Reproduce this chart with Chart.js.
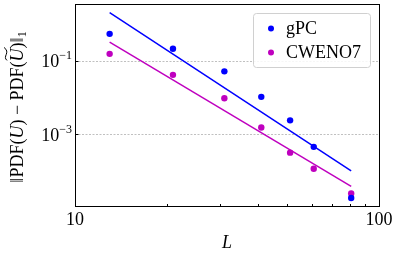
<!DOCTYPE html>
<html>
<head>
<meta charset="utf-8">
<script src="https://cdn.jsdelivr.net/npm/chart.js@4/dist/chart.umd.min.js"></script>
<style>
	html, body { margin: 0; padding: 0; background: #fff; }
	#box { width: 400px; height: 257px; }
</style>
</head>
<body>
<div id="box"><canvas id="grafico"></canvas></div>
<script>
// data
var L = [13, 21, 31, 41, 51, 61, 81]
var errGPC = [0.53, 0.21, 0.051, 0.0104, 0.0024, 0.00046, 0.000019]
var errCWENO = [0.152, 0.041, 0.0095, 0.00154, 0.00032, 0.000117, 0.000025]
var fitL = [13, 81]
var fitGPC = [2.0, 0.000102]
var fitCWENO = [0.316, 0.000039]
var xMajor = [10, 100]
var xMinor = [20, 30, 40, 50, 60, 70, 80, 90]
var yMajor = [0.1, 0.001]
var yExp = ['\u22121', '\u22123']
var serieNomes = ['gPC', 'CWENO7']

var corAzul = '#0000ff'
var corMag = '#bf00bf'
var fonte = '"Liberation Serif", "DejaVu Serif", serif'

function pontos(xs, ys) {
	var arr = []
	for (var i = 0; i < xs.length; i++) arr.push({ x: xs[i], y: ys[i] })
	return arr
}

var desenhoExtra = {
	id: 'desenhoExtra',
	beforeDatasetsDraw: function (chart) {
		var ctx = chart.ctx, a = chart.chartArea, ys = chart.scales.y
		ctx.save()
		ctx.strokeStyle = '#b0b0b0'
		ctx.lineWidth = 0.8
		ctx.setLineDash([2, 1.5])
		yMajor.forEach(function (v) {
			var py = Math.round(ys.getPixelForValue(v)) + 0.5
			ctx.beginPath(); ctx.moveTo(a.left, py); ctx.lineTo(a.right, py); ctx.stroke()
		})
		ctx.restore()
	},
	afterDraw: function (chart) {
		var ctx = chart.ctx, a = chart.chartArea, xs = chart.scales.x, ys = chart.scales.y
		ctx.save()
		// frame
		ctx.strokeStyle = '#000'
		ctx.lineWidth = 1
		ctx.strokeRect(Math.round(a.left) + 0.5, Math.round(a.top) + 0.5, Math.round(a.right - a.left), Math.round(a.bottom - a.top))
		// ticks pointing in
		ctx.beginPath()
		xMajor.forEach(function (v) {
			var px = Math.round(xs.getPixelForValue(v)) + 0.5
			ctx.moveTo(px, a.bottom); ctx.lineTo(px, a.bottom - 3.5)
		})
		xMinor.forEach(function (v) {
			var px = Math.round(xs.getPixelForValue(v)) + 0.5
			ctx.moveTo(px, a.bottom); ctx.lineTo(px, a.bottom - 2)
		})
		yMajor.forEach(function (v) {
			var py = Math.round(ys.getPixelForValue(v)) + 0.5
			ctx.moveTo(a.left, py); ctx.lineTo(a.left + 3.5, py)
		})
		ctx.stroke()
		// x tick labels
		ctx.fillStyle = '#000'
		ctx.font = '18px ' + fonte
		ctx.textAlign = 'center'
		ctx.textBaseline = 'middle'
		xMajor.forEach(function (v) {
			ctx.fillText(String(v), xs.getPixelForValue(v), a.bottom + 14)
		})
		// y tick labels 10^n
		yMajor.forEach(function (v, i) {
			var py = ys.getPixelForValue(v)
			ctx.font = '12px ' + fonte
			var wSup = ctx.measureText(yExp[i]).width
			ctx.textAlign = 'left'
			ctx.fillText(yExp[i], 72 - wSup, py - 5)
			ctx.font = '18px ' + fonte
			ctx.textAlign = 'right'
			ctx.fillText('10', 72 - wSup, py + 2)
		})
		// x title
		ctx.font = 'italic 18px ' + fonte
		ctx.textAlign = 'center'
		ctx.fillText('L', (a.left + a.right) / 2, 243)
		// y title, rotated
		ctx.translate(18, 107)
		ctx.rotate(-Math.PI / 2)
		var partes = [
			['\u2016PDF(', ''], ['U', 'italic '], [') \u2212 PDF(', ''], ['U', 'italic '], [')\u2016', '']
		]
		var total = 0
		partes.forEach(function (p) {
			ctx.font = p[1] + '18px ' + fonte
			total += ctx.measureText(p[0]).width
		})
		ctx.font = '12px ' + fonte
		total += ctx.measureText('1').width
		var cx = -total / 2
		ctx.textAlign = 'left'
		partes.forEach(function (p, i) {
			ctx.font = p[1] + '18px ' + fonte
			ctx.fillText(p[0], cx, 0)
			var w = ctx.measureText(p[0]).width
			if (i === 3) {
				// wide tilde over the second U
				ctx.save()
				ctx.lineWidth = 1
				ctx.beginPath()
				var tx = cx + 1, ty = -12, tw = w
				ctx.moveTo(tx, ty + 1)
				ctx.bezierCurveTo(tx + tw * 0.3, ty - 4, tx + tw * 0.6, ty + 5, tx + tw, ty - 2)
				ctx.stroke()
				ctx.restore()
			}
			cx += w
		})
		ctx.font = '12px ' + fonte
		ctx.fillText('1', cx, 5)
		ctx.restore()

		// legend inside the axes, top right
		ctx.save()
		var lx = 253, ly = 13, lw = 117, lh = 54
		ctx.fillStyle = 'rgba(255,255,255,0.85)'
		ctx.strokeStyle = '#d0d0d0'
		ctx.lineWidth = 1
		ctx.beginPath()
		ctx.roundRect(lx + 0.5, ly + 0.5, lw, lh, 3)
		ctx.fill(); ctx.stroke()
		var cores = [corAzul, corMag]
		ctx.font = '18px ' + fonte
		ctx.textAlign = 'left'
		ctx.textBaseline = 'middle'
		serieNomes.forEach(function (nome, i) {
			var yy = 28.5 + i * 24
			ctx.fillStyle = cores[i]
			ctx.beginPath(); ctx.arc(271, yy, 3, 0, Math.PI * 2); ctx.fill()
			ctx.fillStyle = '#000'
			ctx.fillText(nome, 286, yy + 1)
		})
		ctx.restore()
	}
}

var configChart = {
	type: 'scatter',
	data: {
		datasets: [{
			label: serieNomes[0],
			data: pontos(L, errGPC),
			backgroundColor: corAzul,
			borderColor: corAzul,
			pointRadius: 3.2,
			pointBorderWidth: 0,
		}, {
			label: serieNomes[1],
			data: pontos(L, errCWENO),
			backgroundColor: corMag,
			borderColor: corMag,
			pointRadius: 3.2,
			pointBorderWidth: 0,
		}, {
			label: 'fit gPC',
			data: pontos(fitL, fitGPC),
			showLine: true,
			borderColor: corAzul,
			borderWidth: 1.5,
			pointRadius: 0,
		}, {
			label: 'fit CWENO7',
			data: pontos(fitL, fitCWENO),
			showLine: true,
			borderColor: corMag,
			borderWidth: 1.5,
			pointRadius: 0,
		}]
	},
	options: {
		responsive: true,
		maintainAspectRatio: false,
		animation: false,
		layout: { padding: { top: 4, right: 21, left: 0, bottom: 0 } },
		plugins: {
			legend: { display: false },
			tooltip: { enabled: false },
		},
		scales: {
			x: {
				type: 'logarithmic',
				min: 10,
				max: 100,
				grid: { display: false },
				border: { display: false },
				ticks: { display: false },
				afterFit: function (s) { s.height = 51 },
			},
			y: {
				type: 'logarithmic',
				min: Math.pow(10, -4.94),
				max: Math.pow(10, 0.533),
				grid: { display: false },
				border: { display: false },
				ticks: { display: false },
				afterFit: function (s) { s.width = 75 },
			},
		},
	},
	plugins: [desenhoExtra],
}

var ctxG = document.getElementById('grafico').getContext('2d')
window.meuGrafico = new Chart(ctxG, configChart)
</script>
</body>
</html>
